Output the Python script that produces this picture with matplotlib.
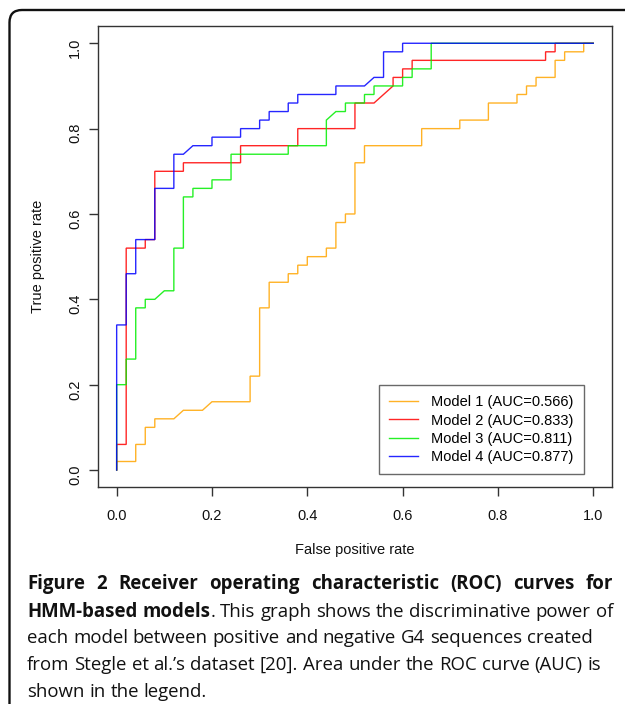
import numpy as np
import matplotlib
matplotlib.use('Agg')
import matplotlib.pyplot as plt
from matplotlib.patches import FancyBboxPatch

# ROC curves: false positive rate / true positive rate
fpr1 = [0, 0, 0.04, 0.04, 0.06, 0.06, 0.08, 0.08, 0.12, 0.14, 0.18, 0.20, 0.28, 0.28,
        0.30, 0.30, 0.32, 0.32, 0.36, 0.36, 0.38, 0.38, 0.40, 0.40, 0.44, 0.44, 0.46,
        0.46, 0.48, 0.48, 0.50, 0.50, 0.52, 0.52, 0.64, 0.64, 0.72, 0.72, 0.78, 0.78,
        0.84, 0.84, 0.86, 0.86, 0.88, 0.88, 0.92, 0.92, 0.94, 0.94, 0.98, 0.98, 1.0]
tpr1 = [0, 0.02, 0.02, 0.06, 0.06, 0.10, 0.10, 0.12, 0.12, 0.14, 0.14, 0.16, 0.16, 0.22,
        0.22, 0.38, 0.38, 0.44, 0.44, 0.46, 0.46, 0.48, 0.48, 0.50, 0.50, 0.52, 0.52,
        0.58, 0.58, 0.60, 0.60, 0.72, 0.72, 0.76, 0.76, 0.80, 0.80, 0.82, 0.82, 0.86,
        0.86, 0.88, 0.88, 0.90, 0.90, 0.92, 0.92, 0.96, 0.96, 0.98, 0.98, 1.0, 1.0]

fpr2 = [0, 0, 0.02, 0.02, 0.06, 0.06, 0.08, 0.08, 0.14, 0.14, 0.26, 0.26, 0.38, 0.38,
        0.50, 0.50, 0.54, 0.58, 0.58, 0.60, 0.60, 0.62, 0.62, 0.90, 0.90, 0.92, 0.92, 1.0]
tpr2 = [0, 0.06, 0.06, 0.52, 0.52, 0.54, 0.54, 0.70, 0.70, 0.72, 0.72, 0.76, 0.76, 0.80,
        0.80, 0.86, 0.86, 0.90, 0.92, 0.92, 0.94, 0.94, 0.96, 0.96, 0.98, 0.98, 1.0, 1.0]

fpr3 = [0, 0, 0.02, 0.02, 0.04, 0.04, 0.06, 0.06, 0.08, 0.10, 0.12, 0.12, 0.14, 0.14,
        0.16, 0.16, 0.20, 0.20, 0.24, 0.24, 0.36, 0.36, 0.44, 0.44, 0.46, 0.48, 0.48,
        0.52, 0.52, 0.54, 0.54, 0.60, 0.60, 0.62, 0.62, 0.66, 0.66, 1.0]
tpr3 = [0, 0.20, 0.20, 0.26, 0.26, 0.38, 0.38, 0.40, 0.40, 0.42, 0.42, 0.52, 0.52, 0.64,
        0.64, 0.66, 0.66, 0.68, 0.68, 0.74, 0.74, 0.76, 0.76, 0.82, 0.84, 0.84, 0.86,
        0.86, 0.88, 0.88, 0.90, 0.90, 0.92, 0.92, 0.94, 0.94, 1.0, 1.0]

fpr4 = [0, 0, 0.02, 0.02, 0.04, 0.04, 0.08, 0.08, 0.12, 0.12, 0.14, 0.16, 0.20, 0.20,
        0.26, 0.26, 0.30, 0.30, 0.32, 0.32, 0.36, 0.36, 0.38, 0.38, 0.46, 0.46, 0.52,
        0.54, 0.56, 0.56, 0.60, 0.60, 1.0]
tpr4 = [0, 0.34, 0.34, 0.46, 0.46, 0.54, 0.54, 0.66, 0.66, 0.74, 0.74, 0.76, 0.76, 0.78,
        0.78, 0.80, 0.80, 0.82, 0.82, 0.84, 0.84, 0.86, 0.86, 0.88, 0.88, 0.90, 0.90,
        0.92, 0.92, 0.98, 0.98, 1.0, 1.0]

labels = ['Model 1 (AUC=0.566)', 'Model 2 (AUC=0.833)',
          'Model 3 (AUC=0.811)', 'Model 4 (AUC=0.877)']
colors = ['#ffa500', '#ff0000', '#00ee00', '#0000ff']
ticks = [0.0, 0.2, 0.4, 0.6, 0.8, 1.0]
tick_labels = ['0.0', '0.2', '0.4', '0.6', '0.8', '1.0']

# caption lines: (bold part, regular part, justified?)
caption = [
    ('Figure 2 Receiver operating characteristic (ROC) curves for', '', True),
    ('HMM-based models', '. This graph shows the discriminative power of', True),
    ('', 'each model between positive and negative G4 sequences created', False),
    ('', 'from Stegle et al.\u2019s dataset [20]. Area under the ROC curve (AUC) is', False),
    ('', 'shown in the legend.', False),
]

plt.rcParams['font.family'] = ['Liberation Sans', 'DejaVu Sans']

W, H = 625, 704
fig = plt.figure(figsize=(W / 100, H / 100), dpi=100)
ax = fig.add_axes([97.6 / W, 1 - 487.1 / H, 514.7 / W, 460.9 / H])

curves = [(fpr1, tpr1), (fpr2, tpr2), (fpr3, tpr3), (fpr4, tpr4)]
for (fx, ty), c, lab in zip(curves, colors, labels):
    ax.plot(fx, ty, color=c, lw=1.0, alpha=0.85, label=lab, solid_joinstyle='miter')

ax.set_xlim(-0.04, 1.04)
ax.set_ylim(-0.04, 1.04)
ax.set_xticks(ticks, labels=tick_labels)
ax.set_yticks(ticks, labels=tick_labels)
for s in ax.spines.values():
    s.set_color('#333333')
    s.set_linewidth(1.0)
ax.tick_params(direction='out', length=6.5, width=1.0, color='#333333',
               labelsize=10.5, labelcolor='#111111')
ax.tick_params(axis='x', pad=9)
ax.tick_params(axis='y', pad=4.5, labelrotation=90)

ax.set_xlabel('False positive rate', fontsize=10.5, color='#111111')
ax.set_ylabel('True positive rate', fontsize=10.5, color='#111111')
ax.xaxis.set_label_coords(0.5, -0.122)
ax.yaxis.set_label_coords(-0.102, 0.5)

leg = ax.legend(loc='lower right', bbox_to_anchor=(0.945, 0.028), borderaxespad=0,
                fontsize=10.5, frameon=True, fancybox=False, borderpad=0.7,
                labelspacing=0.29, handlelength=2.0, handletextpad=0.9)
leg.get_frame().set_edgecolor('#444444')
leg.get_frame().set_linewidth(1.0)
for line in leg.get_lines():
    line.set_alpha(0.85)

# rounded frame around the figure, cut off on the right and bottom
frame = FancyBboxPatch((9.5 / W, -0.05), 1.1, 1.05 - 10 / H,
                       boxstyle='round,pad=0,rounding_size=0.02',
                       mutation_aspect=W / H, transform=fig.transFigure,
                       fill=False, edgecolor='#111111', lw=1.7)
fig.patches.append(frame)

# caption text, word by word so the long lines can be justified
renderer = fig.canvas.get_renderer()
sizes = {'normal': 13.4, 'bold': 13.4}
x_left, x_right = 27.0, 613.0
baselines = [589.3, 616.7, 643.3, 670.0, 696.7]


def put(txt, weight, x, yb):
    return fig.text(x / W, 1 - yb / H, txt, fontsize=sizes[weight], fontweight=weight,
                    family=['Open Sans', 'DejaVu Sans'], color='#111111',
                    ha='left', va='baseline')


space_t = put('a a', 'normal', 0, -100)
a_t = put('aa', 'normal', 0, -100)
space_w = space_t.get_window_extent(renderer).width - a_t.get_window_extent(renderer).width
space_t.remove()
a_t.remove()

for (bold, reg, justify), yb in zip(caption, baselines):
    # words made of (text, weight) pieces
    words = [[(w, 'bold')] for w in bold.split(' ') if w]
    reg_words = [w for w in reg.split(' ') if w]
    if reg_words and words and not reg.startswith(' '):
        words[-1].append((reg_words[0], 'normal'))
        reg_words = reg_words[1:]
    words += [[(w, 'normal')] for w in reg_words]

    items = []
    total = 0.0
    for word in words:
        pieces = []
        for txt, weight in word:
            t = put(txt, weight, 0, yb)
            wpx = t.get_window_extent(renderer).width
            pieces.append((t, wpx))
            total += wpx
        items.append(pieces)
    gap = space_w
    if justify and len(items) > 1:
        gap = (x_right - x_left - total) / (len(items) - 1)
    x = x_left
    for pieces in items:
        for t, wpx in pieces:
            t.set_x(x / W)
            x += wpx
        x += gap

fig.savefig('out.png', dpi=100)
